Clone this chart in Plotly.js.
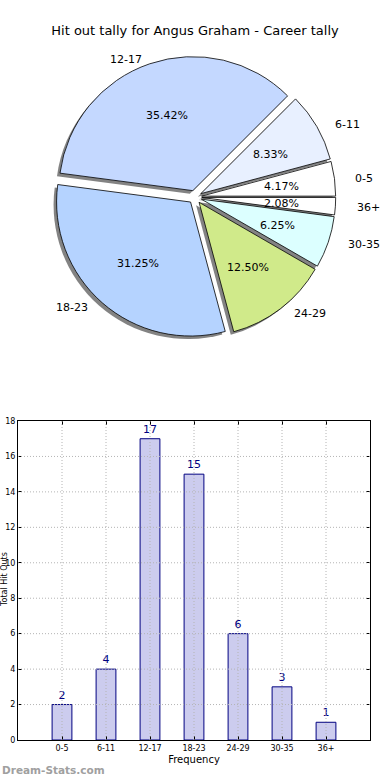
<!DOCTYPE html>
<html>
<head>
<meta charset="utf-8">
<script src="https://cdn.plot.ly/plotly-3.0.1.min.js"></script>
<style>html,body{margin:0;padding:0;background:#fff;}#chart{width:390px;height:780px;}</style>
</head>
<body>
<div id="chart"></div>
<script>
// ---- data ----
const categories = ["0-5", "6-11", "12-17", "18-23", "24-29", "30-35", "36+"];
const counts = [2, 4, 17, 15, 6, 3, 1];
const pieColors = ["#ffffff", "#e8f0ff", "#c4d8ff", "#b5d3ff", "#d0ea8a", "#dcffff", "#ffffff"];
const explode = [0.05, 0.05, 0.05, 0.05, 0.05, 0.05, 0.05];
const titleText = "Hit out tally for Angus Graham - Career tally";
const yTicks = [0, 2, 4, 6, 8, 10, 12, 14, 16, 18];

// ---- layout geometry (pixels) ----
const W = 390, H = 780;
const cx = 195, cy = 197, R = 134;
const rxLab = 139, ryLab = 127;
const maxPull = Math.max(...explode);
const half = R * (1 + maxPull);
const pieDom = {
  x: [(cx - half) / W, (cx + half) / W],
  y: [1 - (cy + half) / H, 1 - (cy - half) / H]
};
const sh = 3;
const shadowDom = {
  x: [pieDom.x[0] - sh / W, pieDom.x[1] - sh / W],
  y: [pieDom.y[0] - sh / H, pieDom.y[1] - sh / H]
};

const total = counts.reduce((a, b) => a + b, 0);
// Plotly (counterclockwise) places the first slice clockwise of `rotation`;
// shift so the first slice starts at 3 o'clock like matplotlib.
const rotation = 90 - 360 * counts[0] / total;

const annotations = [];
let cum = 0;
counts.forEach((v, i) => {
  const th = (cum + v / 2) / total * 2 * Math.PI;
  cum += v;
  const c = Math.cos(th), s = Math.sin(th);
  const ox = cx + explode[i] * rxLab * c, oy = cy + 1 - explode[i] * ryLab * s;
  const lx = ox + 1.1 * rxLab * c, ly = oy - 1.1 * ryLab * s;
  annotations.push({
    text: categories[i], x: lx / W, y: 1 - ly / H, xref: "paper", yref: "paper",
    xanchor: c >= 0 ? "left" : "right", yanchor: "middle", showarrow: false,
    font: { family: "DejaVu Sans", size: 11, color: "#000" }
  });
  const px = cx + explode[i] * R * c + 0.6 * R * c, py = cy + 1 - explode[i] * R * s - 0.6 * R * s;
  annotations.push({
    text: (100 * v / total).toFixed(2) + "%", x: px / W, y: 1 - py / H, xref: "paper", yref: "paper",
    xanchor: "center", yanchor: "middle", showarrow: false,
    font: { family: "DejaVu Sans", size: 11, color: "#000" }
  });
});

annotations.push({
  text: "Total Hit Outs", x: 4 / W, y: 1 - 580 / H, xref: "paper", yref: "paper",
  textangle: -90, xanchor: "center", yanchor: "middle", showarrow: false,
  font: { family: "DejaVu Sans", size: 8, color: "#000" }
});
annotations.push({
  text: "<b>Dream-Stats.com</b>", x: 0, y: 1 - 770 / H, xref: "paper", yref: "paper",
  xanchor: "left", yanchor: "middle", showarrow: false,
  font: { family: "DejaVu Sans", size: 10.5, color: "#a0a0a0" }
});

// dotted grid drawn above the bars, like the reference
const gridStyle = { color: "#b4b4b4", width: 1, dash: "1px,2px" };
const shapes = [];
yTicks.slice(1, -1).forEach(t => shapes.push({
  type: "line", xref: "x domain", yref: "y", x0: 0, x1: 1, y0: t, y1: t, layer: "above", line: gridStyle
}));
categories.forEach(cat => shapes.push({
  type: "line", xref: "x", yref: "y domain", x0: cat, x1: cat, y0: 0, y1: 1, layer: "above", line: gridStyle
}));

const shadow = {
  type: "pie", values: counts, labels: categories, sort: false,
  direction: "counterclockwise", rotation: rotation, pull: explode,
  marker: { colors: counts.map(() => "rgba(100,100,100,0.8)"), line: { width: 0 } },
  textinfo: "none", hoverinfo: "skip", showlegend: false, domain: shadowDom
};
const pie = {
  type: "pie", values: counts, labels: categories, sort: false,
  direction: "counterclockwise", rotation: rotation, pull: explode,
  marker: { colors: pieColors, line: { color: "#000", width: 0.8 } },
  textinfo: "none", showlegend: false, domain: pieDom
};
const bars = {
  type: "bar", x: categories, y: counts, width: 0.45, xaxis: "x", yaxis: "y",
  marker: { color: "#ccccee", line: { color: "#000080", width: 1 } },
  text: counts.map(String), textposition: "outside", cliponaxis: false,
  outsidetextfont: { family: "DejaVu Sans", size: 11, color: "#000080" },
  showlegend: false
};

const layout = {
  width: W, height: H, margin: { l: 0, r: 0, t: 0, b: 0 },
  paper_bgcolor: "#fff", plot_bgcolor: "#fff",
  font: { family: "DejaVu Sans", color: "#000" },
  title: { text: titleText, x: 0.5, xanchor: "center", y: 1 - 30 / H, yanchor: "middle",
           font: { family: "DejaVu Sans", size: 13, color: "#000" } },
  xaxis: {
    domain: [18 / W, 370 / W], range: [-1, 7], type: "category",
    showline: true, linecolor: "#000", linewidth: 1, mirror: "allticks",
    ticks: "inside", ticklen: 4, tickcolor: "#000",
    showgrid: false,
    tickfont: { family: "DejaVu Sans", size: 8, color: "#000" },
    title: { text: "Frequency", font: { family: "DejaVu Sans", size: 10, color: "#000" }, standoff: 4 },
    fixedrange: true, automargin: false
  },
  yaxis: {
    domain: [1 - 740 / H, 1 - 421 / H], range: [0, 18], tickvals: yTicks,
    showline: true, linecolor: "#000", linewidth: 1, mirror: "allticks",
    ticks: "inside", ticklen: 4, tickcolor: "#000", zeroline: false,
    showgrid: false,
    tickfont: { family: "DejaVu Sans", size: 8, color: "#000" },
    fixedrange: true, automargin: false
  },
  shapes: shapes,
  annotations: annotations
};

Plotly.newPlot("chart", [shadow, pie, bars], layout, { staticPlot: true, displayModeBar: false });
</script>
</body>
</html>
